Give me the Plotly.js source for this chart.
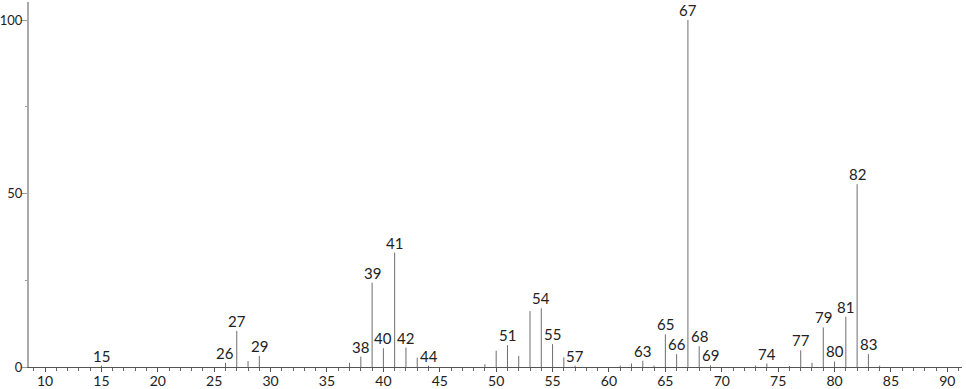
<!DOCTYPE html>
<html>
<head>
<meta charset="utf-8">
<script src="https://cdn.plot.ly/plotly-3.0.1.min.js"></script>
<style>html,body{margin:0;padding:0;background:#fff;}#chart{width:966px;height:389px;}</style>
</head>
<body>
<div id="chart"></div>
<script>
// m/z values and relative intensities
const mzValues = [15, 26, 27, 28, 29, 37, 38, 39, 40, 41, 42, 43, 44, 49, 50, 51, 52, 53, 54, 55, 56, 57,
                  61, 62, 63, 64, 65, 66, 67, 68, 69, 73, 74, 76, 77, 78, 79, 80, 81, 82, 83, 84];
const intensities = [0.4, 1.2, 10.4, 1.7, 3.2, 1.2, 3.0, 24.3, 5.4, 33.0, 5.6, 2.7, 0.4, 0.8, 4.7, 6.3, 3.2, 16.1, 16.9, 6.6, 2.8, 0.4,
                     0.4, 1.0, 1.8, 0.4, 9.4, 3.7, 100, 6.0, 0.5, 0.4, 1.0, 0.3, 4.8, 1.2, 11.4, 1.6, 14.5, 52.7, 3.7, 0.4];
const labeledPeaks = [15, 26, 27, 29, 38, 39, 40, 41, 42, 44, 51, 54, 55, 57, 63, 65, 66, 67, 68, 69, 74, 77, 79, 80, 81, 82, 83];
const xTickVals = [10, 15, 20, 25, 30, 35, 40, 45, 50, 55, 60, 65, 70, 75, 80, 85, 90];
const yTickVals = [0, 50, 100];

const FONT = 'Lato, "DejaVu Sans", sans-serif';

// stick segments
const sx = [], sy = [];
mzValues.forEach((m, i) => { sx.push(m, m, null); sy.push(0, intensities[i], null); });

const annotations = labeledPeaks.map(m => {
  const i = mzValues.indexOf(m);
  return {
    x: m, y: intensities[i], xref: 'x', yref: 'y',
    text: String(m), showarrow: false,
    xanchor: 'center', yanchor: 'bottom', yshift: -1,
    font: {family: FONT, size: 15, color: '#222'}
  };
});

const trace = {
  x: sx, y: sy, type: 'scatter', mode: 'lines',
  line: {color: '#6e6e6e', width: 1},
  hoverinfo: 'skip', showlegend: false
};

const layout = {
  width: 966, height: 389,
  margin: {l: 29, r: 4, t: 2, b: 22},
  paper_bgcolor: '#fff', plot_bgcolor: '#fff',
  showlegend: false,
  font: {family: FONT, size: 14, color: '#222'},
  xaxis: {
    range: [8.58, 91.3],
    tickmode: 'array', tickvals: xTickVals,
    ticks: 'outside', ticklen: 4, tickcolor: '#555', tickwidth: 1,
    ticklabelstandoff: -3,
    showline: true, linecolor: '#555', linewidth: 1,
    showgrid: false, zeroline: false,
    tickfont: {family: FONT, size: 14, color: '#222'},
    minor: {dtick: 1, tick0: 0, ticks: 'outside', ticklen: 3, tickcolor: '#666', showgrid: false}
  },
  yaxis: {
    range: [0, 105.2],
    tickmode: 'array', tickvals: yTickVals,
    ticks: 'outside', ticklen: 6, tickcolor: '#999', tickwidth: 1,
    ticklabelstandoff: -4,
    showline: true, linecolor: '#aaa', linewidth: 2,
    showgrid: false, zeroline: false,
    tickfont: {family: FONT, size: 13, color: '#222'},
    minor: {dtick: 25, tick0: 0, ticks: 'outside', ticklen: 2, tickcolor: '#999', showgrid: false}
  },
  annotations: annotations
};

Plotly.newPlot('chart', [trace], layout, {displayModeBar: false, staticPlot: true});
</script>
</body>
</html>
